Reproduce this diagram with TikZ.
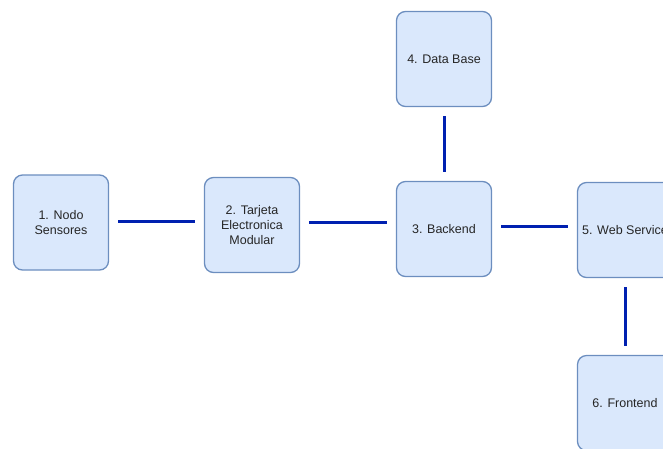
\documentclass[tikz,border=0pt]{standalone}
\usepackage{fontspec}
\setmainfont{Liberation Sans}
\usetikzlibrary{calc}

\definecolor{boxfill}{HTML}{DAE8FC}
\definecolor{boxline}{HTML}{6C8EBF}
\definecolor{linkblue}{HTML}{0020B0}

\begin{document}
\begin{tikzpicture}[x=1pt,y=-1pt,
	box/.style={draw=boxline,fill=boxfill,line width=1.3pt,rounded corners=9pt,
		minimum width=95pt,minimum height=95pt,inner sep=2pt,align=center,
		font=\fontsize{12.5}{15}\selectfont,text=black!85}]
	\useasboundingbox (0,0) rectangle (663,448);
	\clip (0,0) rectangle (663,448);
	\node[box] (nodo)     at (61,222.5) {1. Nodo\\Sensores} ;
	\node[box] (tarjeta)  at (252,225)  {2. Tarjeta\\Electronica\\Modular} ;
	\node[box] (backend)  at (444,229)  {3. Backend} ;
	\node[box] (database) at (444,59)   {4. Data Base} ;
	\node[box] (webserv)  at (625,230)  {5. Web Service} ;
	\node[box] (frontend) at (625,403)  {6. Frontend} ;
	\begin{scope}[linkblue,line width=3pt,shorten <=9pt,shorten >=9pt]
	\draw ($(nodo.east)+(0,-1.5)$)    -- ($(nodo.east -| tarjeta.west)+(0,-1.5)$) ;
	\draw ($(tarjeta.east)+(0,-3)$)   -- ($(tarjeta.east -| backend.west)+(0,-3)$) ;
	\draw ($(backend.east)+(0,-3)$)   -- ($(backend.east -| webserv.west)+(0,-3)$) ;
	\draw (backend.north) -- (database.south) ;
	\draw (webserv.south) -- (frontend.north) ;
	\end{scope}
\end{tikzpicture}
\end{document}
